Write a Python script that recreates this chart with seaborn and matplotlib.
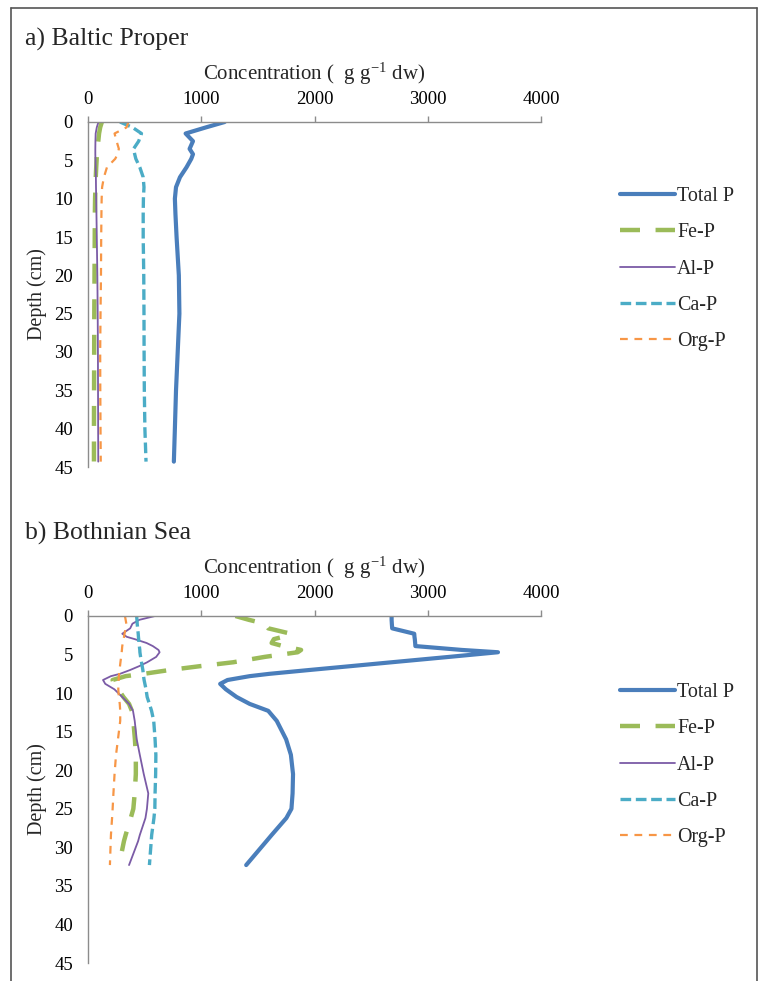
import matplotlib
matplotlib.use("Agg")
import matplotlib.pyplot as plt
from matplotlib.lines import Line2D
import seaborn as sns
import pandas as pd

# a) Baltic Proper
depth_a = [0, 0.7, 1.5, 2.5, 3.5, 4.2, 4.8, 5.9, 7.2, 8.5, 10, 12, 15, 20, 25, 30, 35, 40, 44.3]
total_a = [1205, 1040, 860, 925, 895, 925, 910, 868, 810, 775, 765, 770, 780, 800, 805, 790, 775, 765, 756]
fe_a = [120, 105, 95, 88, 80, 76, 74, 70, 66, 63, 60, 58, 57, 55, 53, 52, 51, 50, 50]
al_a = [90, 75, 65, 63, 62, 62, 63, 65, 67, 68, 70, 72, 75, 80, 83, 85, 86, 87, 88]
ca_a = [280, 390, 470, 445, 400, 410, 420, 455, 485, 492, 487, 485, 485, 490, 492, 493, 495, 500, 510]
org_a = [355, 338, 232, 250, 270, 258, 238, 165, 138, 122, 118, 116, 114, 112, 108, 105, 106, 108, 110]

# b) Bothnian Sea
depth_b = [0, 0.5, 1.0, 1.6, 2.3, 2.7, 3.0, 3.5, 3.9, 4.4, 4.7, 5.3, 6.0, 6.5, 7.0, 7.5,
           7.8, 8.3, 8.8, 9.5, 10.5, 11.4, 12.3, 13.6, 16.0, 18.0, 20.5, 23.0, 25.0, 26.2,
           28.4, 29.2, 32.3]
total_b = [2680, 2680, 2682, 2685, 2880, 2882, 2885, 2888, 2890, 3300, 3620, 3190, 2680, 2320, 1955,
           1600, 1426, 1230, 1165, 1215, 1310, 1426, 1590, 1665, 1748, 1790, 1809, 1805, 1795, 1750,
           1620, 1574, 1395]
fe_b = [1300, 1420, 1560, 1590, 1790, 1720, 1640, 1620, 1720, 1880, 1850, 1560, 1280, 990, 720, 490,
        330, 215, 225, 265, 310, 360, 385, 398, 412, 420, 420, 410, 398, 375, 330, 315, 272]
al_b = [590, 450, 390, 370, 300, 340, 410, 515, 570, 620, 630, 600, 520, 450, 370, 280,
        200, 130, 150, 230, 300, 360, 395, 410, 428, 455, 490, 530, 518, 505, 455, 440, 360]
ca_b = [427, 430, 432, 436, 441, 443, 445, 448, 451, 455, 456, 462, 470, 476, 482, 486,
        488, 493, 500, 510, 520, 540, 559, 578, 590, 597, 595, 590, 588, 580, 560, 556, 540]
org_b = [324, 330, 336, 330, 320, 316, 312, 305, 300, 297, 295, 290, 284, 280, 276, 272,
         270, 268, 266, 265, 270, 278, 282, 282, 262, 245, 232, 222, 215, 210, 200, 198, 191]

names = ["Total P", "Fe-P", "Al-P", "Ca-P", "Org-P"]
styles = {
    "Total P": dict(color="#4A7EBB", lw=3.0, ls="-"),
    "Fe-P": dict(color="#9BBB59", lw=3.2, ls=(0, (4.5, 3.5))),
    "Al-P": dict(color="#7B5BA6", lw=1.3, ls="-"),
    "Ca-P": dict(color="#4BACC6", lw=2.4, ls=(0, (3.2, 1.4))),
    "Org-P": dict(color="#F79646", lw=1.6, ls=(0, (3.5, 3.0))),
}

sns.set_style("white")
plt.rcParams["font.family"] = ["Liberation Serif", "DejaVu Serif"]
plt.rcParams["mathtext.fontset"] = "stix"

fig = plt.figure(figsize=(7.64, 9.81), dpi=100)
W, H = 764, 981


def px_box(l, t, r, b):
    return [l / W, 1 - b / H, (r - l) / W, (b - t) / H]


panels = [
    ("a) Baltic Proper", depth_a, [total_a, fe_a, al_a, ca_a, org_a], px_box(88.3, 122, 541, 467), 269),
    ("b) Bothnian Sea", depth_b, [total_b, fe_b, al_b, ca_b, org_b], px_box(88.3, 616, 541, 963), 765),
]

grey = "#8C8C8C"
for title, depth, series, box, leg_y in panels:
    ax = fig.add_axes(box)
    for name, vals in zip(names, series):
        df = pd.DataFrame({"conc": vals, "depth": depth})
        st = styles[name]
        sns.lineplot(data=df, x="conc", y="depth", orient="y", sort=False, estimator=None,
                     ax=ax, color=st["color"], linewidth=st["lw"], linestyle=st["ls"],
                     label=name)
    ax.set_xlim(0, 4000)
    ax.set_ylim(45, 0)
    ax.set_xticks([0, 1000, 2000, 3000, 4000])
    ax.set_yticks(range(0, 46, 5))
    ax.xaxis.tick_top()
    ax.xaxis.set_label_position("top")
    for s in ["right", "bottom"]:
        ax.spines[s].set_visible(False)
    for s in ["left", "top"]:
        ax.spines[s].set_color(grey)
        ax.spines[s].set_linewidth(1.0)
    ax.tick_params(axis="both", direction="out", length=4, width=1, color=grey,
                   labelsize=13.5, labelcolor="black")
    ax.tick_params(axis="x", pad=6)
    ax.tick_params(axis="y", pad=7)
    ax.set_xlabel(r"Concentration (  g g$^{\mathregular{-1}}$ dw)", fontsize=15, labelpad=8)
    ax.set_ylabel("Depth (cm)", fontsize=14.5, labelpad=5)
    ax.grid(False)
    ax.legend(loc="center left", bbox_to_anchor=(620 / W, 1 - leg_y / H),
              bbox_transform=fig.transFigure, frameon=False, fontsize=14.4,
              handlelength=2.75, handletextpad=0.1, labelspacing=0.86,
              borderpad=0, borderaxespad=0)
    top_px = (1 - box[1] - box[3]) * H
    fig.text(25 / W, 1 - (top_px - 83) / H, title, fontsize=18.5, va="center", ha="left")

# outer frame
for xs, ys in [((11, 11), (8, 981)), ((11, 757), (8, 8)), ((757, 757), (8, 981))]:
    fig.add_artist(Line2D([x / W for x in xs], [1 - y / H for y in ys],
                          transform=fig.transFigure, color="#555555", lw=1.2))

fig.savefig("out.png", dpi=100)
